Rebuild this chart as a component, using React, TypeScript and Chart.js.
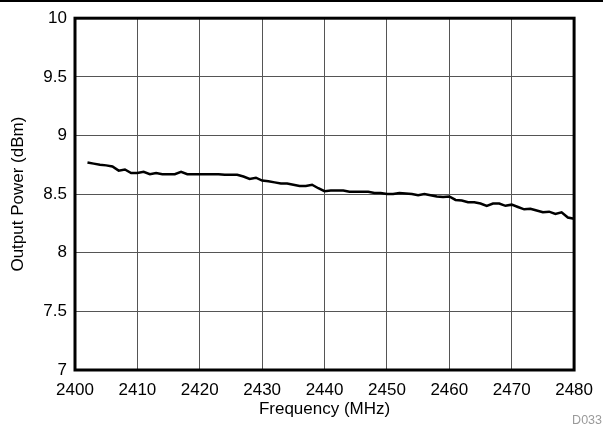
import React, { useEffect, useRef } from "react";
import { Chart, registerables } from "chart.js";

Chart.register(...registerables);

const frequencies: number[] = [
  2402, 2403, 2404, 2405, 2406, 2407, 2408, 2409, 2410, 2411, 2412, 2413, 2414, 2415, 2416, 2417, 2418, 2419, 2420, 2421,
  2422, 2423, 2424, 2425, 2426, 2427, 2428, 2429, 2430, 2431, 2432, 2433, 2434, 2435, 2436, 2437, 2438, 2439, 2440, 2441,
  2442, 2443, 2444, 2445, 2446, 2447, 2448, 2449, 2450, 2451, 2452, 2453, 2454, 2455, 2456, 2457, 2458, 2459, 2460, 2461,
  2462, 2463, 2464, 2465, 2466, 2467, 2468, 2469, 2470, 2471, 2472, 2473, 2474, 2475, 2476, 2477, 2478, 2479, 2480,
];

const outputPower: number[] = [
  8.77, 8.76, 8.75, 8.745, 8.735, 8.7, 8.71, 8.68, 8.68, 8.69, 8.67, 8.68, 8.67, 8.67, 8.67, 8.69, 8.67, 8.67, 8.67, 8.67,
  8.67, 8.67, 8.665, 8.665, 8.665, 8.65, 8.63, 8.64, 8.615, 8.61, 8.6, 8.59, 8.59, 8.58, 8.57, 8.57, 8.58, 8.55, 8.525, 8.53,
  8.53, 8.53, 8.52, 8.52, 8.52, 8.52, 8.51, 8.51, 8.5, 8.5, 8.51, 8.505, 8.5, 8.49, 8.5, 8.49, 8.48, 8.475, 8.48, 8.45,
  8.445, 8.43, 8.43, 8.42, 8.4, 8.42, 8.42, 8.4, 8.41, 8.39, 8.37, 8.375, 8.36, 8.345, 8.35, 8.33, 8.345, 8.3, 8.29,
];

const xTitle = "Frequency (MHz)";
const yTitle = "Output Power (dBm)";
const figureId = "D033";

const FONT = "'Liberation Sans', Arial, sans-serif";

const framePlugin = {
  id: "frame",
  afterDraw(chart: any) {
    const { ctx, chartArea } = chart;
    ctx.save();
    ctx.strokeStyle = "#000";
    ctx.lineWidth = 3;
    ctx.strokeRect(chartArea.left, chartArea.top, chartArea.right - chartArea.left, chartArea.bottom - chartArea.top);
    ctx.lineWidth = 2;
    ctx.beginPath();
    ctx.moveTo(0, 1);
    ctx.lineTo(chart.width, 1);
    ctx.stroke();
    ctx.fillStyle = "#9a9a9a";
    ctx.font = `12.5px ${FONT}`;
    ctx.textAlign = "right";
    ctx.textBaseline = "middle";
    ctx.fillText(figureId, 602, 421);
    ctx.restore();
  },
};

export default function App() {
  const ref = useRef<HTMLCanvasElement | null>(null);
  useEffect(() => {
    if (!ref.current) return;
    const chart = new Chart(ref.current, {
      type: "line",
      data: {
        datasets: [
          {
            data: frequencies.map((f, i) => ({ x: f, y: outputPower[i] })),
            borderColor: "#000",
            borderWidth: 2.5,
            pointRadius: 0,
            tension: 0,
            fill: false,
          },
        ],
      },
      options: {
        animation: false,
        responsive: false,
        maintainAspectRatio: false,
        layout: { padding: { left: 0, top: 16, right: 28, bottom: 0 } },
        plugins: { legend: { display: false }, tooltip: { enabled: false } },
        scales: {
          x: {
            type: "linear",
            min: 2400,
            max: 2480,
            afterFit: (s: any) => {
              s.height = 57;
            },
            ticks: {
              stepSize: 10,
              color: "#000",
              font: { family: FONT, size: 17 },
              padding: 10,
              maxRotation: 0,
              callback: (v: any) => String(v),
            },
            grid: { color: "#555", lineWidth: 1, drawTicks: false },
            border: { display: false },
            title: {
              display: true,
              text: xTitle,
              color: "#000",
              font: { family: FONT, size: 17 },
              padding: { top: 0, bottom: 7 },
            },
          },
          y: {
            min: 7,
            max: 10,
            afterFit: (s: any) => {
              s.width = 75;
            },
            ticks: {
              stepSize: 0.5,
              color: "#000",
              font: { family: FONT, size: 17 },
              padding: 8,
              callback: (v: any) => String(v),
            },
            grid: { color: "#555", lineWidth: 1, drawTicks: false },
            border: { display: false },
            title: {
              display: true,
              text: yTitle,
              color: "#000",
              font: { family: FONT, size: 17 },
              padding: { top: 8, bottom: 0 },
            },
          },
        },
      },
      plugins: [framePlugin],
    });
    return () => chart.destroy();
  }, []);
  return (
    <div style={{ position: "absolute", left: 0, top: 0, width: 603, height: 427 }}>
      <canvas ref={ref} width={603} height={427} style={{ width: 603, height: 427 }} />
    </div>
  );
}
